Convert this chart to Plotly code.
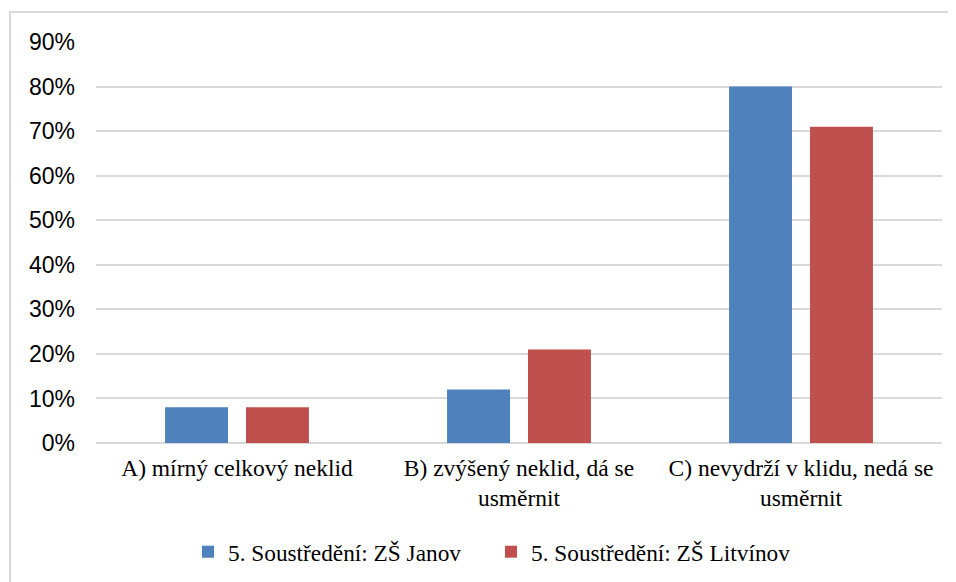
import plotly.graph_objects as go

categories = ["A) mírný celkový neklid",
              "B) zvýšený neklid, dá se<br>usměrnit",
              "C) nevydrží v klidu, nedá se<br>usměrnit"]
series_names = ["5. Soustředění: ZŠ Janov", "5. Soustředění: ZŠ Litvínov"]
janov = [0.08, 0.12, 0.80]
litvinov = [0.08, 0.21, 0.71]
tick_vals = [0, 0.1, 0.2, 0.3, 0.4, 0.5, 0.6, 0.7, 0.8, 0.9]
tick_text = ["0%", "10%", "20%", "30%", "40%", "50%", "60%", "70%", "80%", "90%"]

W, H = 956, 582
OFF = 8  # page body margin
L, R, T, B = 96 - OFF, 14 + OFF, 42 - OFF, 139 + OFF

fig = go.Figure()
fig.add_trace(go.Bar(x=categories, y=janov, name=series_names[0],
                     marker=dict(color="#4F81BD", line=dict(width=0))))
fig.add_trace(go.Bar(x=categories, y=litvinov, name=series_names[1],
                     marker=dict(color="#C0504D", line=dict(width=0))))

pw = W - L - R
ph = H - T - B
bx0 = (10 - OFF - L) / pw
bx1 = (W + 20 - OFF - L) / pw
by1 = (H - B - (12 - OFF)) / ph
by0 = (H - B - (H + 20)) / ph

fig.update_layout(
    width=W, height=H,
    margin=dict(l=L, r=R, t=T, b=B, autoexpand=False),
    paper_bgcolor="white", plot_bgcolor="white",
    barmode="group", bargap=0.426, bargroupgap=0.222,
    showlegend=True,
    legend=dict(orientation="h", x=(188 - 96) / pw, xanchor="left", y=-0.272, yanchor="middle",
                font=dict(family="Liberation Serif", size=23.3, color="#000000"),
                itemwidth=30, entrywidth=258, traceorder="normal"),
    xaxis=dict(showgrid=False, showline=False, ticks="", ticklabelstandoff=8,
               tickfont=dict(family="Liberation Serif", size=23.5, color="#000000")),
    yaxis=dict(range=[0, 0.9], tickvals=tick_vals, ticktext=tick_text,
               showgrid=True, gridcolor="#D9D9D9", gridwidth=2,
               zeroline=True, zerolinecolor="#D9D9D9", zerolinewidth=2,
               showline=False, ticks="", ticklabelstandoff=20,
               tickfont=dict(family="Liberation Sans", size=23, color="#000000")),
    shapes=[dict(type="rect", xref="paper", yref="paper",
                 x0=bx0, x1=bx1, y0=by0, y1=by1,
                 line=dict(color="#D9D9D9", width=2), fillcolor="rgba(0,0,0,0)",
                 layer="below")],
)
fig.write_html("out.html")
